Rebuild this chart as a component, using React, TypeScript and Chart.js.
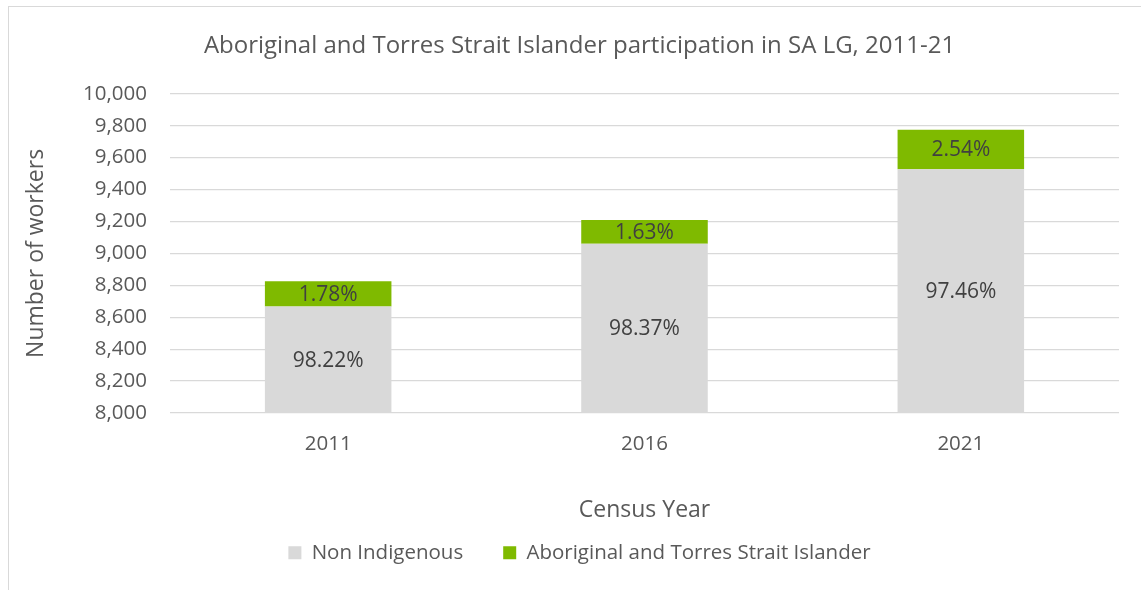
import React, { useEffect, useRef } from "react";
import { Chart, registerables } from "chart.js";

Chart.register(...registerables);

const years = ["2011", "2016", "2021"];
const nonIndigenous = [8668, 9060, 9527];
const aboriginalTSI = [157, 150, 248];
const nonIndigenousPct = [98.22, 98.37, 97.46];
const aboriginalTSIPct = [1.78, 1.63, 2.54];
const yTicks = [8000, 8200, 8400, 8600, 8800, 9000, 9200, 9400, 9600, 9800, 10000];

const FONT = "'Open Sans', 'Noto Sans', sans-serif";
const TEXT = "#595959";

const segmentLabels = {
  id: "segmentLabels",
  afterDatasetsDraw(chart: any) {
    const { ctx, chartArea } = chart;
    const pcts = [nonIndigenousPct, aboriginalTSIPct];
    ctx.save();
    ctx.font = `21px ${FONT}`;
    ctx.fillStyle = "#404040";
    ctx.textAlign = "center";
    ctx.textBaseline = "middle";
    chart.data.datasets.forEach((_: any, di: number) => {
      const meta = chart.getDatasetMeta(di);
      meta.data.forEach((el: any, i: number) => {
        const { x, y, base } = el.getProps(["x", "y", "base"], true);
        const top = Math.max(Math.min(y, base), chartArea.top);
        const bottom = Math.min(Math.max(y, base), chartArea.bottom);
        ctx.fillText(pcts[di][i].toFixed(2) + "%", x, (top + bottom) / 2 + 1);
      });
    });
    ctx.restore();
  },
};

export default function App() {
  const ref = useRef<HTMLCanvasElement | null>(null);
  useEffect(() => {
    if (!ref.current) return;
    const chart = new Chart(ref.current, {
      type: "bar",
      data: {
        labels: years,
        datasets: [
          {
            label: "Non Indigenous",
            data: nonIndigenous,
            backgroundColor: "#d9d9d9",
            borderWidth: 0,
          },
          {
            label: "Aboriginal and Torres Strait Islander",
            data: aboriginalTSI,
            backgroundColor: "#7fba00",
            borderWidth: 0,
          },
        ],
      },
      options: {
        animation: false,
        responsive: false,
        maintainAspectRatio: false,
        layout: { padding: { left: 40, right: 22, top: 0, bottom: 17 } },
        datasets: { bar: { categoryPercentage: 1, barPercentage: 0.4 } },
        plugins: {
          title: {
            display: true,
            text: "Aboriginal and Torres Strait Islander participation in SA LG, 2011-21",
            color: TEXT,
            font: { family: FONT, size: 24, weight: "normal" },
            padding: { top: 32, bottom: 33 },
          },
          legend: {
            position: "bottom",
            labels: {
              color: TEXT,
              font: { family: FONT, size: 20.5 },
              boxWidth: 13,
              boxHeight: 13,
              padding: 40,
            },
          },
          tooltip: { enabled: false },
        },
        scales: {
          x: {
            stacked: true,
            grid: { display: false },
            border: { display: false },
            ticks: { color: TEXT, font: { family: FONT, size: 20.5 }, padding: 11 },
            title: {
              display: true,
              text: "Census Year",
              color: TEXT,
              font: { family: FONT, size: 23 },
              padding: { top: 0, bottom: -22 },
            },
            afterFit: (s: any) => {
              s.height = 89.5;
            },
          },
          y: {
            stacked: true,
            min: 8000,
            max: 10000,
            afterBuildTicks: (s: any) => {
              s.ticks = yTicks.map((v) => ({ value: v }));
            },
            grid: { color: "#d9d9d9", lineWidth: 1.3, drawTicks: false },
            border: { display: false },
            ticks: {
              color: TEXT,
              font: { family: FONT, size: 20.5 },
              padding: 23,
              callback: (v: any) => Number(v).toLocaleString("en-US"),
            },
            title: {
              display: true,
              text: "Number of workers",
              color: TEXT,
              font: { family: FONT, size: 23 },
              padding: { top: -17, bottom: 0 },
            },
            afterFit: (s: any) => {
              s.width = 130;
            },
          },
        },
      },
      plugins: [segmentLabels],
    });
    return () => chart.destroy();
  }, []);

  return (
    <div style={{ position: "fixed", left: 0, top: 0, width: 1141, height: 590, background: "#fff" }}>
      <canvas ref={ref} width={1141} height={590} style={{ position: "absolute", left: 0, top: 0 }} />
      <div
        style={{
          position: "absolute",
          left: 8,
          top: 6,
          width: 1200,
          height: 700,
          borderLeft: "1px solid #d9d9d9",
          borderTop: "1px solid #d9d9d9",
          pointerEvents: "none",
        }}
      />
    </div>
  );
}
